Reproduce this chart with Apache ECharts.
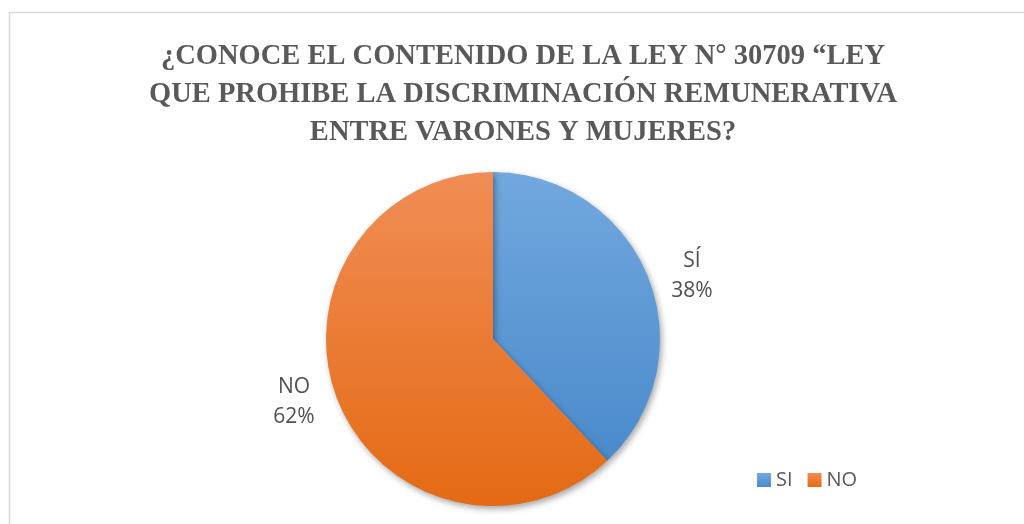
<!DOCTYPE html>
<html>
<head>
<meta charset="utf-8">
<script src="https://cdn.jsdelivr.net/npm/echarts@6/dist/echarts.min.js"></script>
<style>html,body{margin:0;padding:0;background:#fff;}#chart{width:1024px;height:524px;}</style>
</head>
<body>
<div id="chart"></div>
<script>
// Data
var categories = ['SI', 'NO'];
var labelNames = ['SÍ', 'NO'];
var values = [38, 62];
var titleText = '¿CONOCE EL CONTENIDO DE LA LEY N° 30709 “LEY\nQUE PROHIBE LA DISCRIMINACIÓN REMUNERATIVA\nENTRE VARONES Y MUJERES?';

var colorsTop = ['#72A8DE', '#F18D55'];
var colorsBottom = ['#4A8ACB', '#E46A14'];

var chart = echarts.init(document.getElementById('chart'));
var data = categories.map(function (c, i) {
  return {
    name: c,
    value: values[i],
    itemStyle: {
      color: {
        type: 'linear', x: 0, y: 0, x2: 0, y2: 1,
        colorStops: [{offset: 0, color: colorsTop[i]}, {offset: 1, color: colorsBottom[i]}]
      }
    }
  };
});

chart.setOption({
  backgroundColor: '#ffffff',
  animation: false,
  graphic: [{
    type: 'rect', left: 7, top: 10, silent: true,
    shape: {width: 1040, height: 540},
    style: {fill: 'none', stroke: '#d9d9d9', lineWidth: 1.5}
  }],
  title: {
    text: titleText,
    left: 518, top: 33, textAlign: 'center',
    textStyle: {
      fontFamily: 'Liberation Serif', fontWeight: 'bold', fontSize: 28.5,
      lineHeight: 38, color: '#595959'
    }
  },
  legend: {
    data: categories,
    left: 757, top: 470, padding: 0,
    icon: 'rect', itemWidth: 14, itemHeight: 14, itemGap: 15,
    textStyle: {fontFamily: 'Open Sans', fontSize: 20, color: '#595959', padding: [0, 0, 0, 0]}
  },
  series: [{
    type: 'pie',
    center: [493, 339],
    radius: 167,
    startAngle: 90,
    clockwise: true,
    percentPrecision: 0,
    data: data,
    itemStyle: {
      shadowBlur: 6, shadowOffsetX: 2, shadowOffsetY: 3, shadowColor: 'rgba(0,0,0,0.35)'
    },
    label: {
      show: true,
      position: 'outside',
      formatter: function (p) {
        return '{t|' + labelNames[p.dataIndex] + '}\n{t|' + Math.round(p.percent) + '%}';
      },
      rich: {
        t: {width: 46, align: 'center', fontFamily: 'Open Sans', fontSize: 21, lineHeight: 30, color: '#505050'}
      }
    },
    labelLine: {show: false, length: 4, length2: 12},
    emphasis: {disabled: true}
  }]
});
</script>
</body>
</html>
